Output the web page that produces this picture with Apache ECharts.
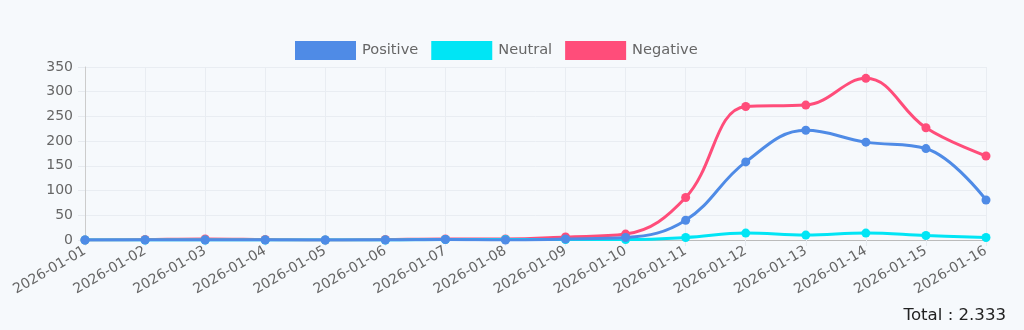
<!DOCTYPE html>
<html><head><meta charset="utf-8">
<script src="https://cdn.jsdelivr.net/npm/echarts@6/dist/echarts.min.js"></script>
<style>html,body{margin:0;padding:0;background:#f6f9fc;}#c{width:1024px;height:330px;}</style>
</head><body><div id="c"></div>
<script>
var categories = ['2026-01-01','2026-01-02','2026-01-03','2026-01-04','2026-01-05','2026-01-06','2026-01-07','2026-01-08','2026-01-09','2026-01-10','2026-01-11','2026-01-12','2026-01-13','2026-01-14','2026-01-15','2026-01-16'];
var positive = [0,0,0,0,0,0,1,0,2,5,40,158,222,198,185,81];
var neutral  = [0,0,0,0,0,0,1,1,1,1,5,14,10,14,9,5];
var negative = [0,1,2,1,0,1,2,2,6,12,86,270,273,327,227,170];
var yTicks = {min:0, max:350, interval:50};

var total = 0;
[positive, neutral, negative].forEach(function(a){a.forEach(function(v){total+=v;});});
var totalStr = String(total).replace(/\B(?=(\d{3})+(?!\d))/g, '.');

var colors = {Positive:'#4f8be6', Neutral:'#00e5f5', Negative:'#ff4d7a'};
var font = 'DejaVu Sans';
function mk(name, data, z){
  return {name:name, type:'line', data:data, smooth:0.4, symbol:'circle', symbolSize:9, z:z,
    lineStyle:{width:3, color:colors[name]}, itemStyle:{color:colors[name]}};
}
var chart = echarts.init(document.getElementById('c'));
chart.setOption({
  backgroundColor:'#f6f9fc',
  animation:false,
  textStyle:{fontFamily:font},
  legend:{top:36, left:290, data:['Positive','Neutral','Negative'], icon:'rect', itemWidth:61, itemHeight:19, itemGap:13,
    textStyle:{color:'#666', fontSize:14.6, fontFamily:font, padding:[0,0,0,1]}},
  title:{text:'Total : ' + totalStr, right:13, bottom:1, textStyle:{fontSize:16.6, fontWeight:'normal', color:'#222', fontFamily:font}},
  grid:{left:85, right:38, top:67, bottom:90, containLabel:false},
  xAxis:{type:'category', data:categories, boundaryGap:false,
    axisLine:{lineStyle:{color:'#bbb', width:1}},
    axisTick:{show:true, length:6, lineStyle:{color:'#e6eaef'}},
    splitLine:{show:true, lineStyle:{color:'#e9edf2'}},
    axisLabel:{rotate:30, color:'#666', fontSize:14, margin:10, interval:0, fontFamily:font}},
  yAxis:{type:'value', min:yTicks.min, max:yTicks.max, interval:yTicks.interval,
    axisLine:{show:true, lineStyle:{color:'#ccc'}},
    axisTick:{show:true, length:7, lineStyle:{color:'#e6eaef'}},
    splitLine:{lineStyle:{color:'#e9edf2'}},
    axisLabel:{color:'#666', fontSize:14, margin:12, fontFamily:font}},
  series:[mk('Negative', negative, 2), mk('Neutral', neutral, 3), mk('Positive', positive, 4)]
});
</script></body></html>
